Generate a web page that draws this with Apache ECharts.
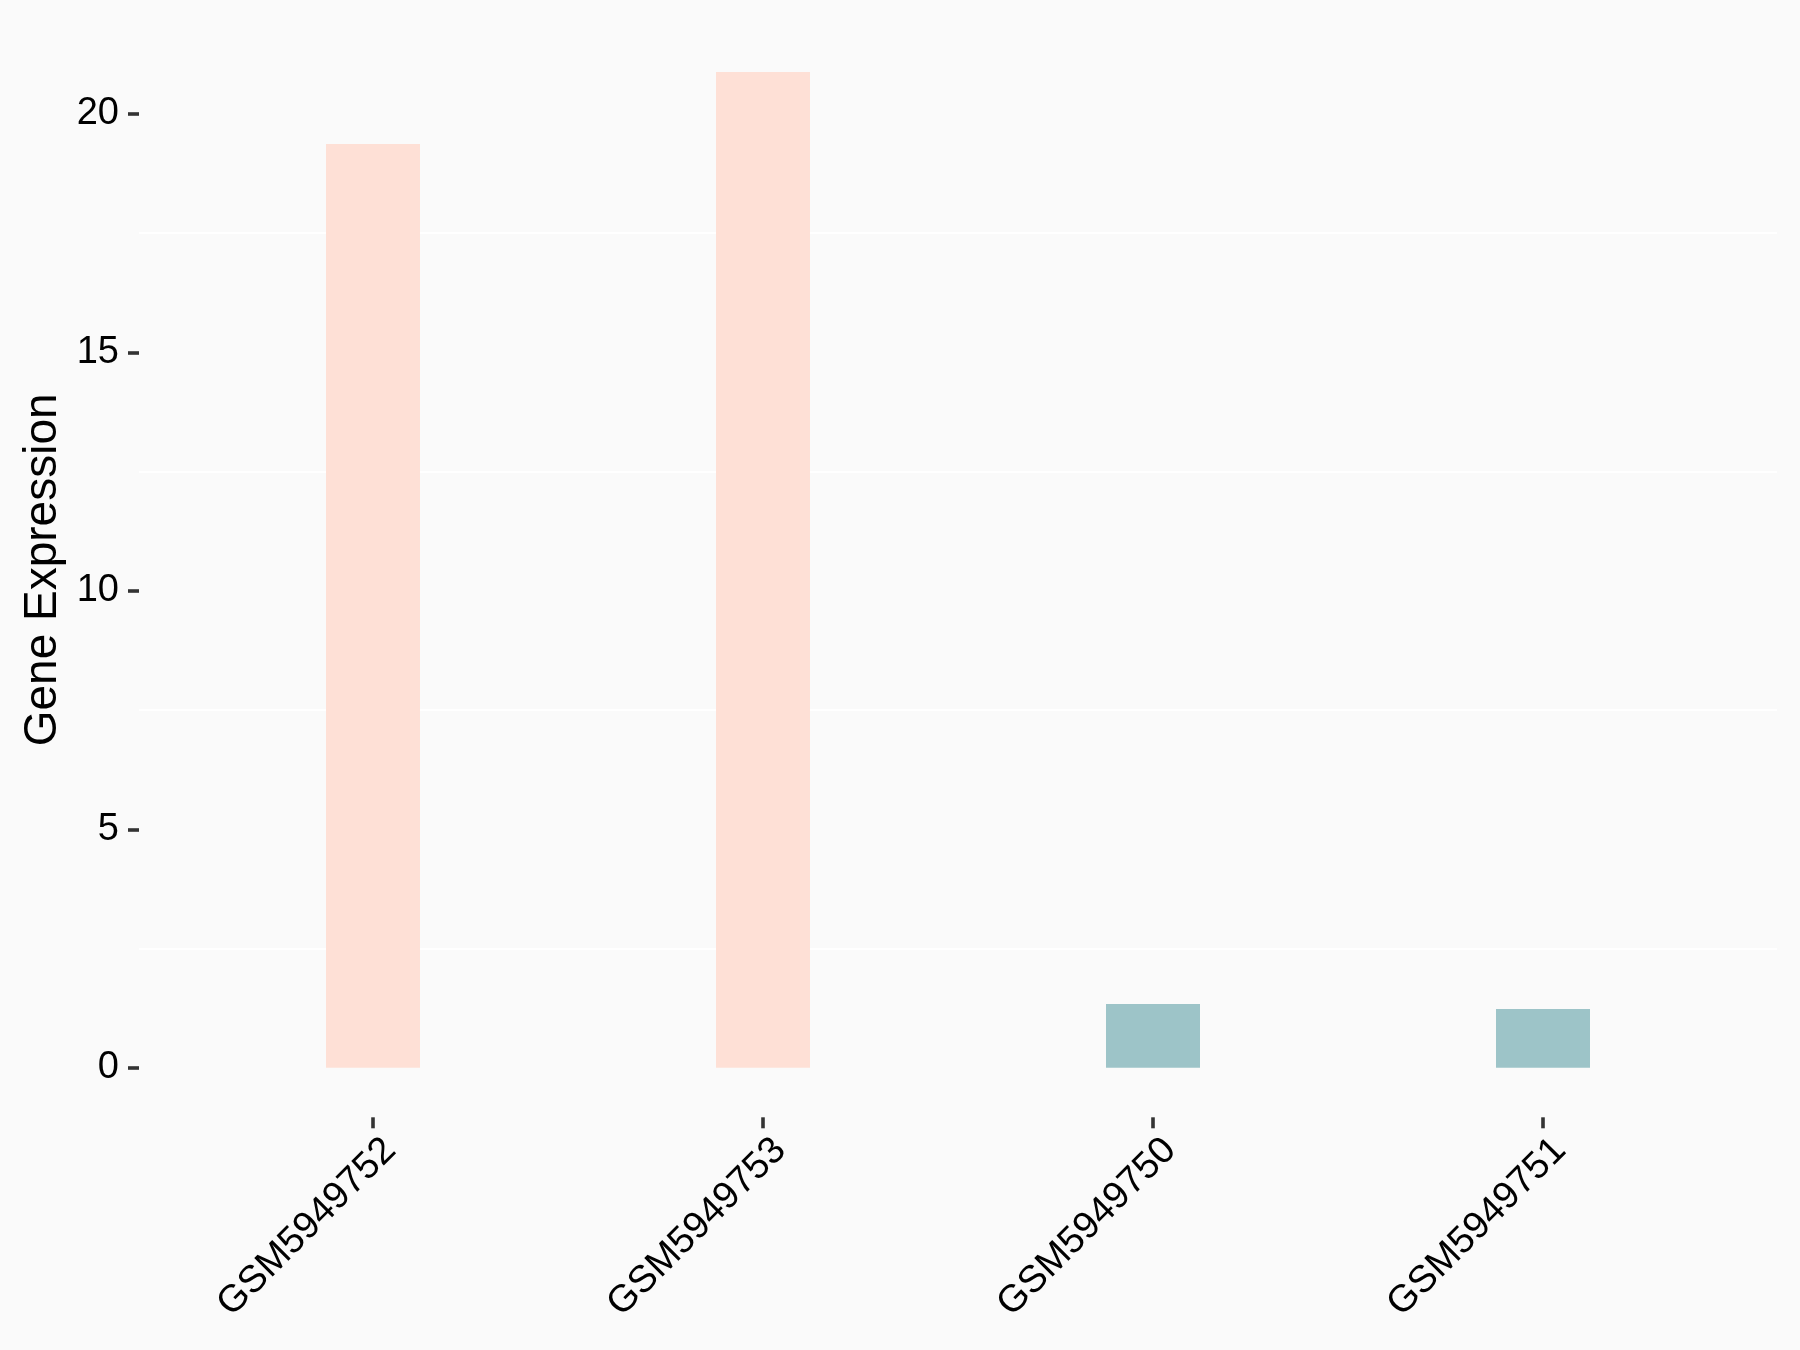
<!DOCTYPE html>
<html>
<head>
<meta charset="utf-8">
<script src="https://cdn.jsdelivr.net/npm/echarts@6/dist/echarts.min.js"></script>
<style>
  html, body { margin: 0; padding: 0; background: #FAFAFA; }
  #chart { width: 1800px; height: 1350px; }
</style>
</head>
<body>
<div id="chart"></div>
<script>
// ---- data ----
const samples = ['GSM5949752', 'GSM5949753', 'GSM5949750', 'GSM5949751'];
const expression = [19.37, 20.88, 1.335, 1.23];
const groups = ['high', 'high', 'low', 'low'];
const groupColors = { high: '#FEE0D6', low: '#9DC4C8' };
const yTicks = [0, 5, 10, 15, 20];

const font = '"Liberation Sans", Arial, sans-serif';
const chart = echarts.init(document.getElementById('chart'), null, { renderer: 'canvas' });

const gridTop = 114, gridBottom = 282.3;

chart.setOption({
  backgroundColor: '#FAFAFA',
  animation: false,
  grid: [
    { left: 178, right: 62, top: gridTop, bottom: gridBottom },   // bars
    { left: 139, right: 23, top: gridTop, bottom: gridBottom },   // y axis + grid lines
    { left: 178, right: 62, top: 23, bottom: 232.7 }              // x axis ticks/labels (panel bottom)
  ],
  xAxis: [
    { type: 'category', gridIndex: 0, data: samples, show: false },
    { type: 'value', gridIndex: 1, show: false, min: 0, max: 1 },
    {
      type: 'category', gridIndex: 2, data: samples,
      axisLine: { show: false },
      axisTick: { show: true, alignWithLabel: true, length: 11, lineStyle: { color: '#333333', width: 3.6 } },
      axisLabel: { rotate: 45, margin: 44, padding: [0, -24, 0, 0], color: '#000000', fontSize: 38, fontFamily: font },
      splitLine: { show: false }
    }
  ],
  yAxis: [
    {
      type: 'value', gridIndex: 0, min: yTicks[0], max: yTicks[yTicks.length - 1], interval: 5,
      show: false
    },
    {
      type: 'value', gridIndex: 1, min: yTicks[0], max: yTicks[yTicks.length - 1], interval: 5,
      name: 'Gene Expression', nameLocation: 'middle', nameGap: 70,
      nameTextStyle: { color: '#000000', fontSize: 46, fontFamily: font, padding: [0, 0, 0, 42] },
      axisLine: { show: false },
      axisTick: { show: true, length: 11, lineStyle: { color: '#333333', width: 3.6 } },
      axisLabel: { margin: 20, padding: [4, 0, 0, 0], color: '#000000', fontSize: 38, fontFamily: font },
      splitLine: { show: false },
      minorTick: { show: false, splitNumber: 2 },
      minorSplitLine: { show: true, lineStyle: { color: '#FFFFFF', width: 2 } }
    },
    { type: 'value', gridIndex: 2, show: false, min: 0, max: 1 }
  ],
  series: [
    {
      type: 'bar', xAxisIndex: 0, yAxisIndex: 0,
      barWidth: 94, clip: false,
      data: expression.map((v, i) => ({ value: v, itemStyle: { color: groupColors[groups[i]] } })),
      z: 5
    }
  ]
});
</script>
</body>
</html>
